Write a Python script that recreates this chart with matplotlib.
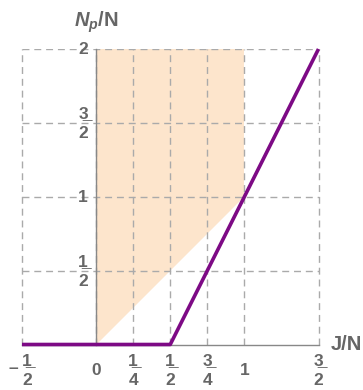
import matplotlib
matplotlib.use("Agg")
import matplotlib.pyplot as plt
import matplotlib.transforms as mtransforms

plt.rcParams['font.family'] = ['Liberation Sans', 'DejaVu Sans']
plt.rcParams['font.weight'] = 'bold'
plt.rcParams['mathtext.fontset'] = 'custom'
plt.rcParams['mathtext.rm'] = 'Liberation Sans:bold'
plt.rcParams['mathtext.bf'] = 'Liberation Sans:bold'
plt.rcParams['mathtext.it'] = 'Liberation Sans:bold:italic'
plt.rcParams['mathtext.default'] = 'bf'

# data
x_ticks = [-0.5, 0, 0.25, 0.5, 0.75, 1, 1.5]
x_labels = ['1/2', '0', '1/4', '1/2', '3/4', '1', '3/2']
y_ticks = [0.5, 1, 1.5, 2]
y_labels = ['1/2', '1', '3/2', '2']

# allowed region (shaded)
region_x = [0, 0, 1, 1]
region_y = [0, 2, 2, 1]

# Np/N curve
curve_x = [-0.5, 0.5, 1.5]
curve_y = [0, 0, 2]

txt = '#666666'
axc = '#888888'


def frac(s):
    # stacked fraction: underlined numerator over denominator
    if '/' in s:
        num, den = s.split('/')
        return num + '\u0332\n' + den
    return s


fig = plt.figure(figsize=(3.63, 3.90), dpi=100)
ax = fig.add_axes([22 / 363, 45.5 / 390, 296.5 / 363, 295.5 / 390])

ax.fill(region_x, region_y, color='#fde5cc', lw=0, zorder=1)
ax.plot(curve_x, curve_y, color='#7d0a85', lw=2.6, zorder=3,
        solid_capstyle='butt', clip_on=False)

ax.set_xlim(-0.5, 1.5)
ax.set_ylim(0, 2)
ax.set_xticks(x_ticks)
ax.set_yticks(y_ticks)
ax.set_xticklabels([])
ax.set_yticklabels([])

ax.grid(True, color='#aaaaaa', lw=1, dashes=(5, 3.5))
for gl in ax.get_xgridlines() + ax.get_ygridlines():
    gl.set_clip_on(False)

ax.spines['top'].set_visible(False)
ax.spines['right'].set_visible(False)
ax.spines['left'].set_position(('data', 0))
for s in ['left', 'bottom']:
    ax.spines[s].set_color(axc)
    ax.spines[s].set_linewidth(1)
ax.tick_params(length=0)

fs = 12.5
ls = 1.4
for xv, lab in zip(x_ticks, x_labels):
    dx = 5 if xv < 0 else 0
    tr = mtransforms.offset_copy(ax.transData, fig=fig, x=dx, y=-26, units='dots')
    ax.text(xv, 0, frac(lab), transform=tr, ha='center', va='center',
            ma='center', fontsize=fs, color=txt, linespacing=ls, clip_on=False)
    if xv < 0:
        tr = mtransforms.offset_copy(ax.transData, fig=fig, x=-9, y=-24, units='dots')
        ax.text(xv, 0, '\u2013', transform=tr, ha='center', va='center',
                fontsize=fs, color=txt)

for yv, lab in zip(y_ticks, y_labels):
    tr = mtransforms.offset_copy(ax.transData, fig=fig, x=-13, y=-1, units='dots')
    ax.text(0, yv, frac(lab), transform=tr, ha='center', va='center',
            ma='center', fontsize=fs, color=txt, linespacing=ls)

trans = mtransforms.blended_transform_factory(ax.transAxes, ax.transData)
ax.text(1.04, 0, 'J/N', transform=trans, ha='left', va='center',
        fontsize=14.5, color=txt)
trans2 = mtransforms.blended_transform_factory(ax.transData, ax.transAxes)
ax.text(0, 1.09, r'$\mathit{N_p}$/N', transform=trans2, ha='center',
        va='center', fontsize=14.5, color=txt)

fig.savefig('out.png', dpi=100)
